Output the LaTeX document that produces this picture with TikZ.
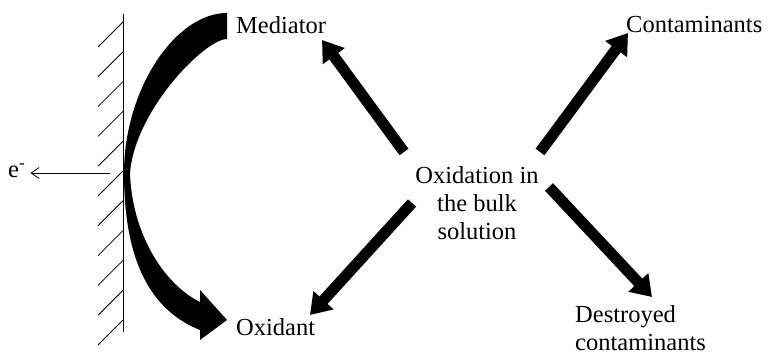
\documentclass[tikz,border=0pt]{standalone}
\usepackage{fontspec}
\setmainfont{Liberation Serif}
\usetikzlibrary{arrows.meta}

\begin{document}
\begin{tikzpicture}[x=1pt, y=-1pt,
  lbl/.style={font=\fontsize{24.5}{28}\selectfont, inner sep=0pt},
  fat/.style={line width=11pt, -{Triangle[length=20pt, width=26pt]}},
  wall/.style={line width=0.8pt},
  earr/.style={line width=0.8pt, -{Straight Barb[length=8pt, width=11pt]}}]
\useasboundingbox (0,0) rectangle (768,363);
\node[lbl, anchor=base west] (med) at (236,34) {Mediator};
\node[lbl, anchor=base west] (oxi) at (236,335) {Oxidant};
\node[lbl, anchor=base west] (cont) at (626,33) {Contaminants};
\node[lbl, align=left, anchor=west] (dest) at (575,328) {Destroyed\\contaminants};
\node[lbl, align=center] (bulk) at (477,203) {Oxidation in\\the bulk\\solution};
\node[lbl, anchor=base west] (elec) at (8,178) {e\textsuperscript{-}};
% electrode
\draw[wall] (123,14) -- (123,332);
\foreach \i in {0,...,10} \draw[wall] (123,{22+29.8*\i}) -- ++(-25,25);
\coordinate (efrom) at (110,173);
\draw[earr, shorten >=5pt] (efrom) -- (elec.east |- efrom);
% mediator -> oxidant at the electrode
\fill (227,13) .. controls (175,13) and (124,90) .. (124,173)
  .. controls (124,260) and (150,310) .. (200,330)
  -- (200,340) -- (227,320) -- (200,290) -- (200,302)
  .. controls (165,285) and (132,235) .. (130,173)
  .. controls (135,110) and (205,39) .. (227,39) -- cycle;
% bulk reactions
\coordinate (mT) at (404,152); \coordinate (mH) at (322,40);
\coordinate (oT) at (412,203); \coordinate (oH) at (310,315);
\coordinate (cT) at (540,152); \coordinate (cH) at (628,33);
\coordinate (dT) at (549,187); \coordinate (dH) at (652,297);
\foreach \a/\b in {mT/mH,oT/oH,cT/cH,dT/dH} \draw[fat] (\a) -- (\b);
\end{tikzpicture}
\end{document}
